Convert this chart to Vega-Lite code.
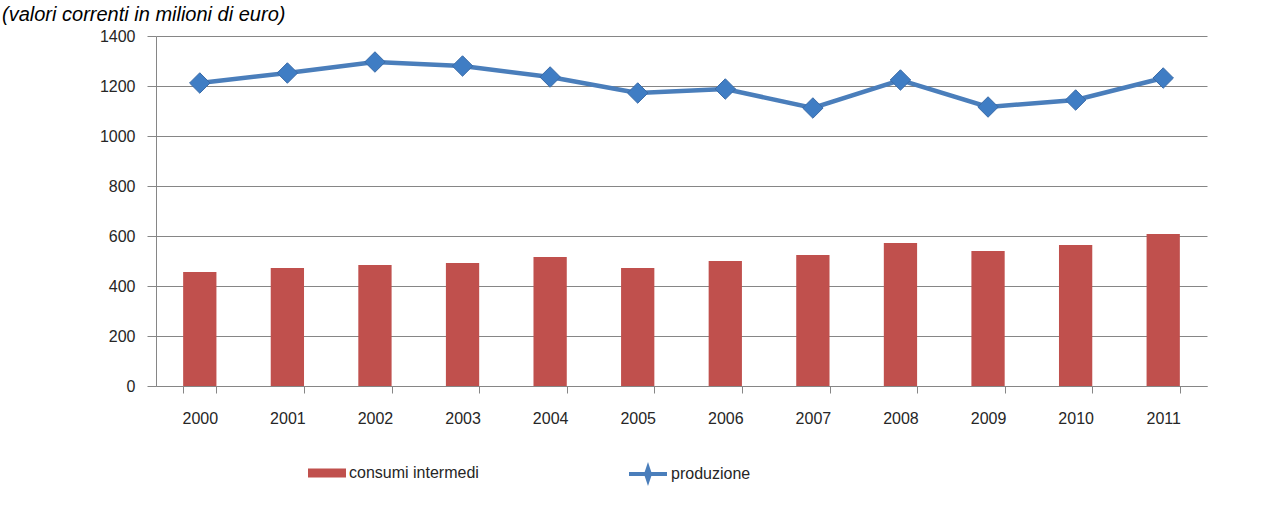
{
  "$schema": "https://vega.github.io/schema/vega-lite/v6.json",
  "autosize": "none",
  "width": 1051,
  "height": 350,
  "padding": {"left": 156, "top": 36, "right": 80, "bottom": 146},
  "background": "white",
  "config": {
    "font": "Liberation Sans",
    "view": {"stroke": null},
    "axis": {"labelFont": "Liberation Sans", "labelColor": "#262626", "labelFontSize": 16}
  },
  "title": {
    "text": "(valori correnti in milioni di euro)",
    "anchor": "start",
    "frame": "group",
    "font": "Liberation Sans",
    "fontStyle": "italic",
    "fontWeight": "normal",
    "fontSize": 20,
    "color": "#000000",
    "baseline": "alphabetic",
    "offset": -13,
    "dx": -154
  },
  "data": {
    "values": [
      {"anno": "2000", "consumi": 456, "produzione": 1212},
      {"anno": "2001", "consumi": 472, "produzione": 1252},
      {"anno": "2002", "consumi": 484, "produzione": 1296},
      {"anno": "2003", "consumi": 492, "produzione": 1280},
      {"anno": "2004", "consumi": 516, "produzione": 1236},
      {"anno": "2005", "consumi": 472, "produzione": 1172},
      {"anno": "2006", "consumi": 500, "produzione": 1188},
      {"anno": "2007", "consumi": 524, "produzione": 1112},
      {"anno": "2008", "consumi": 572, "produzione": 1224},
      {"anno": "2009", "consumi": 540, "produzione": 1116},
      {"anno": "2010", "consumi": 564, "produzione": 1144},
      {"anno": "2011", "consumi": 608, "produzione": 1232}
    ]
  },
  "encoding": {
    "x": {
      "field": "anno", "type": "ordinal",
      "scale": {"paddingInner": 0.62, "paddingOuter": 0.31},
      "axis": {
        "title": null, "labelAngle": 0, "tickBand": "extent",
        "domainColor": "#868686", "tickColor": "#868686", "tickSize": 7,
        "labelPadding": 17, "grid": false
      }
    }
  },
  "layer": [
    {
      "mark": {"type": "bar"},
      "encoding": {
        "y": {
          "field": "consumi", "type": "quantitative",
          "scale": {"domain": [0, 1400], "nice": false},
          "axis": {
            "title": null, "values": [0, 200, 400, 600, 800, 1000, 1200, 1400],
            "format": "d",
            "grid": true, "gridColor": "#868686", "gridWidth": 1,
            "domainColor": "#868686", "tickColor": "#868686", "tickSize": 9,
            "labelPadding": 12
          }
        },
        "fill": {
          "datum": "consumi intermedi",
          "scale": {"range": ["#C0504D"]},
          "legend": {
            "title": null, "orient": "none", "legendX": 151, "legendY": 417,
            "symbolType": "M-1,-0.24H1V0.24H-1Z", "symbolSize": 1444,
            "labelFontSize": 16, "labelColor": "#262626", "labelOffset": 2
          }
        }
      }
    },
    {
      "mark": {"type": "line", "strokeWidth": 4.5, "color": "#4A7EBB"},
      "encoding": {
        "y": {"field": "produzione", "type": "quantitative"},
        "stroke": {
          "datum": "produzione",
          "scale": {"range": ["#4A7EBB"]},
          "legend": {
            "title": null, "orient": "none", "legendX": 471, "legendY": 417,
            "symbolType": "M-1,0H1M0,-0.3L0.1,0L0,0.3L-0.1,0Z", "symbolSize": 1444,
            "symbolStrokeWidth": 4, "symbolFillColor": "#4A7EBB",
            "labelFontSize": 16, "labelColor": "#262626", "labelOffset": 2
          }
        }
      }
    },
    {
      "mark": {"type": "point", "shape": "diamond", "filled": true, "size": 420, "color": "#3F7DC4", "stroke": "#3A6BA8", "strokeWidth": 1, "opacity": 1},
      "encoding": {
        "y": {"field": "produzione", "type": "quantitative"}
      }
    }
  ]
}
